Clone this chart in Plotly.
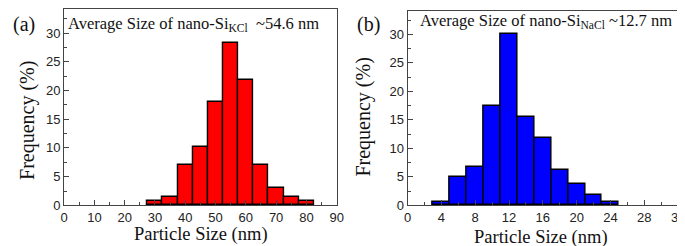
import plotly.graph_objects as go

# Panel (a): nano-Si from KCl
kcl_sizes = [30, 35, 40, 45, 50, 55, 60, 65, 70, 75, 80]
kcl_freq = [0.7, 1.5, 7.0, 10.2, 18.0, 28.2, 21.9, 7.0, 3.1, 1.5, 0.7]
kcl_bin = 5

# Panel (b): nano-Si from NaCl
nacl_sizes = [4, 6, 8, 10, 12, 14, 16, 18, 20, 22, 24]
nacl_freq = [0.6, 5.0, 6.8, 17.5, 30.0, 15.6, 11.9, 6.2, 3.7, 1.8, 0.6]
nacl_bin = 2

W, H = 685, 246
fig = go.Figure()
fig.add_trace(go.Bar(x=kcl_sizes, y=kcl_freq, width=kcl_bin,
                     marker=dict(color="#ff0000", line=dict(color="black", width=1.4)),
                     xaxis="x", yaxis="y", showlegend=False))
fig.add_trace(go.Bar(x=nacl_sizes, y=nacl_freq, width=nacl_bin,
                     marker=dict(color="#0000ff", line=dict(color="black", width=1.4)),
                     xaxis="x2", yaxis="y2", showlegend=False))

tickfont = dict(family="Liberation Sans, Arial", size=13, color="#222")
axcommon = dict(showline=True, linecolor="#444", linewidth=1, mirror=True,
                ticks="inside", ticklen=5, tickcolor="#444", showgrid=False,
                zeroline=False, tickfont=tickfont)

def px_x(a, b):
    return [a / W, b / W]

def px_y(top, bottom):
    return [(H - bottom) / H, (H - top) / H]

fig.update_layout(
    width=W, height=H, margin=dict(l=0, r=0, t=0, b=0),
    plot_bgcolor="white", paper_bgcolor="white", bargap=0,
    xaxis=dict(domain=px_x(53, 330), range=[0, 90], dtick=10,
               minor=dict(ticks="inside", ticklen=3, dtick=5, tickcolor="#444"),
               anchor="y", **axcommon),
    yaxis=dict(domain=px_y(1, 204), range=[0, 34.2], dtick=5,
               minor=dict(ticks="inside", ticklen=3, dtick=2.5, tickcolor="#444"),
               anchor="x", **axcommon),
    xaxis2=dict(domain=px_x(402, 677), range=[0, 32], dtick=4,
                minor=dict(ticks="inside", ticklen=3, dtick=2, tickcolor="#444"),
                anchor="y2", **axcommon),
    yaxis2=dict(domain=px_y(3, 204), range=[0, 34.1], dtick=5,
                minor=dict(ticks="inside", ticklen=3, dtick=2.5, tickcolor="#444"),
                anchor="x2", **axcommon),
)

serif = "Liberation Serif, Times New Roman"
ann = []
def A(text, x, y, size, xanchor="center", textangle=0):
    ann.append(dict(text=text, x=x / W, y=1 - y / H, xref="paper", yref="paper",
                    showarrow=False, xanchor=xanchor, yanchor="middle",
                    align="left", textangle=textangle,
                    font=dict(family=serif, size=size, color="#111")))

A("(a)", 12, 17, 20)
A("(b)", 362, 17, 20)
A("Average Size of nano-Si<sub>KCl</sub>  ~54.6 nm", 55, 17, 16.5, xanchor="left")
A("Average Size of nano-Si<sub>NaCl</sub> ~12.7 nm", 413, 13, 16.5, xanchor="left")
A("Particle Size (nm)", 192, 234, 18.5)
A("Particle Size (nm)", 538, 237, 18.5)
A("Frequency (%)", 15, 116, 20, textangle=-90)
A("Frequency (%)", 357, 113, 20, textangle=-90)
fig.update_layout(annotations=ann)

fig.write_html("out.html")
